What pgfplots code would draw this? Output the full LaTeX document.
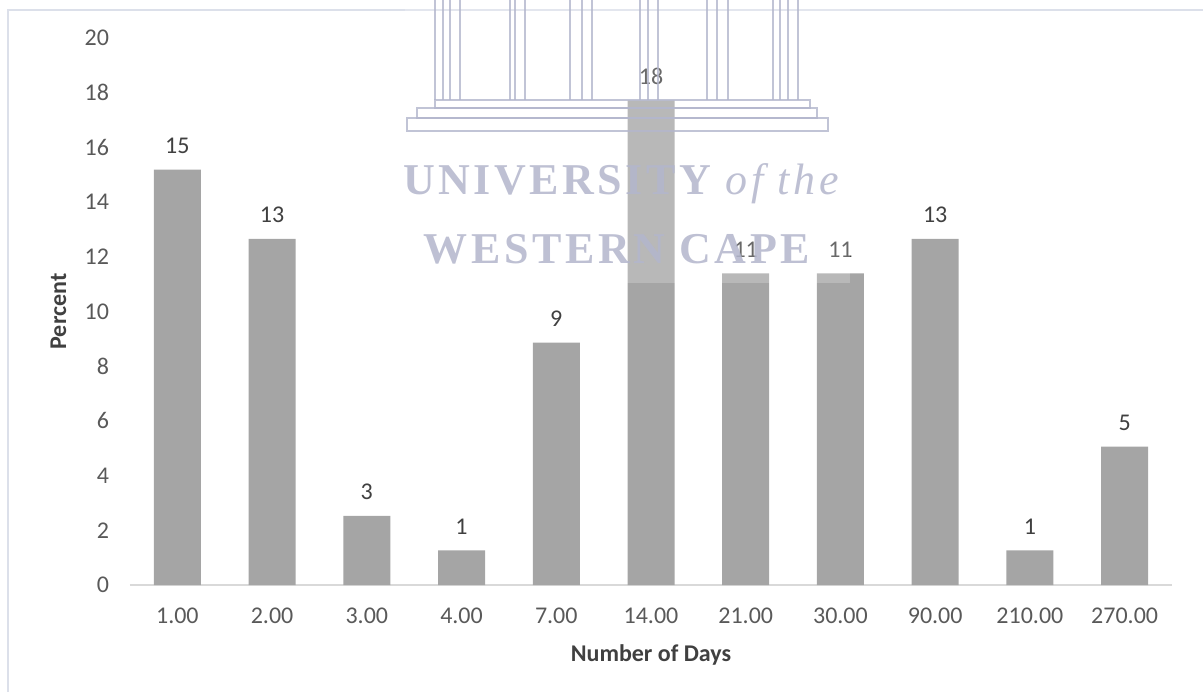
\documentclass[border=0pt]{standalone}
\usepackage{fontspec}
\setmainfont{Carlito}
\newfontfamily\wmfont[LetterSpace=8]{Liberation Serif}
\usepackage{pgfplots}
\pgfplotsset{compat=1.18}
\usepackage{pgfplotstable}
\definecolor{barc}{HTML}{A5A5A5}
\definecolor{axisline}{HTML}{D9D9D9}
\definecolor{ticktext}{HTML}{595959}
\definecolor{lbltext}{HTML}{404040}
\definecolor{framec}{HTML}{DCE0EA}
\definecolor{wm}{HTML}{B3B6CC}

\pgfplotstableread{
x y lab
0 15.19 15
1 12.66 13
2 2.53 3
3 1.27 1
4 8.86 9
5 17.72 18
6 11.39 11
7 11.39 11
8 12.66 13
9 1.27 1
10 5.06 5
}\data

\begin{document}
\begin{tikzpicture}
\path[use as bounding box] (-65pt,-53.5pt) rectangle (536.5pt,292.5pt);
\draw[framec, line width=1pt] (-61pt,-53.5pt) -- (-61pt,287.5pt) -- (536.5pt,287.5pt);
\begin{axis}[
  at={(0pt,0pt)}, anchor=south west,
  scale only axis, width=521pt, height=273.5pt,
  xmin=-0.5, xmax=10.5, ymin=0, ymax=20,
  ybar, bar width=23.5pt,
  xtick={0,...,10},
  xticklabels={1.00,2.00,3.00,4.00,7.00,14.00,21.00,30.00,90.00,210.00,270.00},
  ytick={0,2,...,20},
  major tick length=0pt,
  axis x line*=bottom, axis y line*=left,
  x axis line style={draw=axisline, line width=0.75pt, -},
  y axis line style={draw=none},
  tick label style={font=\fontsize{12}{14}\selectfont, text=ticktext},
  /pgf/number format/assume math mode=true,
  yticklabel style={anchor=east, xshift=-7pt},
  xticklabel style={anchor=north, yshift=-8pt},
  xlabel={Number of Days}, ylabel={Percent},
  label style={font=\fontsize{12}{14}\selectfont\bfseries, text=lbltext},
  xlabel style={at={(axis description cs:0.5,-0.128)}, anchor=center},
  ylabel style={at={(axis description cs:-0.0686,0.5)}, anchor=center},
  nodes near coords, point meta=explicit symbolic,
  every node near coord/.append style={font=\fontsize{12}{14}\selectfont, text=lbltext, yshift=4.5pt},
  clip=false,
]
\addplot[fill=barc, draw=none] table[x=x, y=y, meta=lab]{\data};
\end{axis}
% watermark overlay (px coordinates)
\begin{scope}[x=0.5pt, y=-0.5pt, shift={(-65pt,292.5pt)}]
  \fill[white, opacity=0.22] (405,0) rectangle (850,283);
  \begin{scope}[draw=wm, line width=1.2pt, opacity=0.8]
    \foreach \xx in {435,443,450,460,510,515,525,570,582,592,640,648,658,707,717,728,773,780,788,798}
      \draw (\xx,0) -- (\xx,100);
    \draw (435,100) rectangle (810,108);
    \draw (417,108) rectangle (817,118);
    \draw (407,118) rectangle (828,131);
  \end{scope}
  \node[text=wm, text opacity=0.85, inner sep=0] at (621,184)
    {\wmfont\fontsize{22}{24}\selectfont\bfseries UNIVERSITY \mdseries\itshape of the};
  \node[text=wm, text opacity=0.85, inner sep=0] at (617,249)
    {\wmfont\fontsize{22}{24}\selectfont\bfseries WESTERN CAPE};
\end{scope}
\end{tikzpicture}
\end{document}
